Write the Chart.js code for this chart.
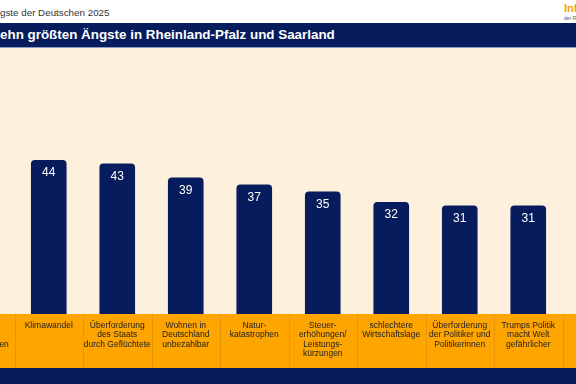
<!DOCTYPE html>
<html>
<head>
<meta charset="utf-8">
<script src="https://cdn.jsdelivr.net/npm/chart.js@4"></script>
<style>
    html, body { margin: 0; padding: 0; }
    body { width: 576px; height: 384px; overflow: hidden; position: relative; background: #fff; font-family: "Liberation Sans", Arial, sans-serif; }
    .subtitle { position: absolute; left: 0; top: 7px; font-size: 9.8px; color: #333; white-space: nowrap; }
    .header { position: absolute; left: 0; top: 23px; width: 576px; height: 24px; background: #061c5c; border-bottom: 1px solid #8d9cc4; }
    .header span.t { position: absolute; left: 0; top: 4px; color: #fff; font-weight: bold; font-size: 13.4px; white-space: nowrap; }
    .pre { position: absolute; right: 100%; top: 0; }
    .logo { position: absolute; left: 564px; top: 2px; color: #f5a300; font-weight: bold; font-size: 11px; white-space: nowrap; }
    .logo2 { position: absolute; left: 564px; top: 15px; color: #555; font-size: 5px; white-space: nowrap; }
    .panel { position: absolute; left: 0; top: 48px; width: 576px; height: 320px; background: #fdf0dc; }
    .footer { position: absolute; left: 0; top: 368px; width: 576px; height: 16px; background: #061c5c; }
    #wrap { position: absolute; left: -54px; top: 47px; width: 685px; height: 321px; }
</style>
</head>
<body>
<div class="subtitle"><span class="pre">Die Än</span>gste der Deutschen 2025</div>
<div class="logo">Infocenter</div>
<div class="logo2">der R+V Versicherung</div>
<div class="header"><span class="t"><span class="pre">Die z</span>ehn größten Ängste in Rheinland-Pfalz und Saarland</span></div>
<div class="panel"></div>
<div class="footer"></div>
<div id="wrap"><canvas id="myChart"></canvas></div>

<script>
// Die zehn größten Ängste, Angaben in Prozent
const categories = [
    ["Steigende", "Lebens-", "haltungskosten"],
    ["Klimawandel"],
    ["Überforderung", "des Staats", "durch Geflüchtete"],
    ["Wohnen in", "Deutschland", "unbezahlbar"],
    ["Natur-", "katastrophen"],
    ["Steuer-", "erhöhungen/", "Leistungs-", "kürzungen"],
    ["schlechtere", "Wirtschaftslage"],
    ["Überforderung", "der Politiker und", "Politikerinnen"],
    ["Trumps Politik", "macht Welt", "gefährlicher"],
    ["Pflegefall", "im Alter"]
];
const values = [57, 44, 43, 39, 37, 35, 32, 31, 31, 30];

const navy = "#061c5c";
const orange = "#fea500";

// orange label band + dividers under the bars
const bandPlugin = {
    id: "band",
    beforeDraw: function(chart) {
        let ctx = chart.ctx;
        let area = chart.chartArea;
        let x = chart.scales.x;
        ctx.save();
        ctx.fillStyle = orange;
        ctx.fillRect(0, area.bottom, chart.width, chart.height - area.bottom);
        ctx.strokeStyle = "#e8960a";
        ctx.lineWidth = 1;
        for (let i = 0; i < categories.length - 1; i++) {
            let px = Math.round((x.getPixelForValue(i) + x.getPixelForValue(i + 1)) / 2) + 0.5;
            ctx.beginPath();
            ctx.moveTo(px, area.bottom);
            ctx.lineTo(px, chart.height);
            ctx.stroke();
        }
        ctx.restore();
    }
};

// values written inside the top of each bar
const valuePlugin = {
    id: "values",
    afterDatasetsDraw: function(chart) {
        let ctx = chart.ctx;
        let meta = chart.getDatasetMeta(0);
        ctx.save();
        ctx.fillStyle = "#ffffff";
        ctx.font = "12px 'Liberation Sans', Arial, sans-serif";
        ctx.textAlign = "center";
        ctx.textBaseline = "middle";
        meta.data.forEach(function(bar, i) {
            ctx.fillText(values[i], bar.x, bar.y + 13);
        });
        ctx.restore();
    }
};

new Chart("myChart", {
    type: "bar",
    data: {
        labels: categories,
        datasets: [{
            data: values,
            backgroundColor: navy,
            borderRadius: { topLeft: 4, topRight: 4 },
            borderSkipped: "bottom",
            barPercentage: 0.52,
            categoryPercentage: 1
        }]
    },
    options: {
        responsive: true,
        maintainAspectRatio: false,
        animation: false,
        events: [],
        layout: { padding: 0 },
        plugins: {
            legend: { display: false },
            tooltip: { enabled: false }
        },
        scales: {
            x: {
                grid: { display: false },
                border: { display: false },
                afterFit: function(scale) { scale.height = 54; },
                ticks: {
                    autoSkip: false,
                    maxRotation: 0,
                    minRotation: 0,
                    padding: -1,
                    color: "#222",
                    font: { size: 8.5, family: "'Liberation Sans', Arial, sans-serif", lineHeight: 1.1 }
                }
            },
            y: {
                display: false,
                min: 0,
                max: 76.3
            }
        }
    },
    plugins: [bandPlugin, valuePlugin]
});
</script>
</body>
</html>
